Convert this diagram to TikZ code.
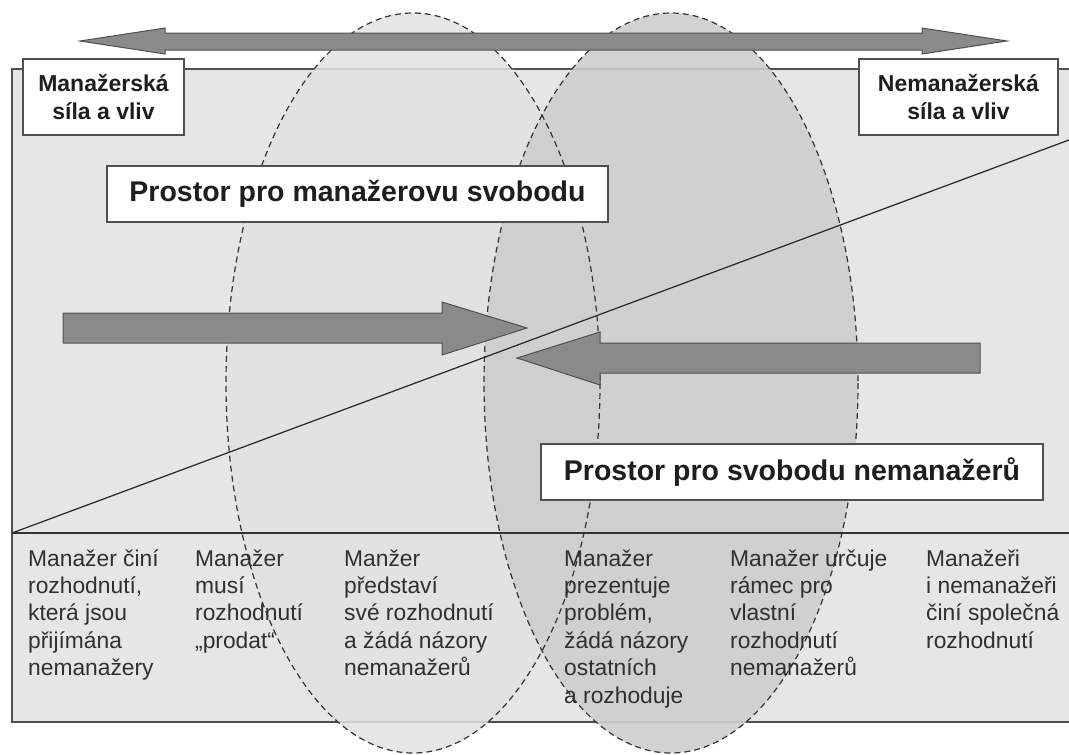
\documentclass[tikz,border=0pt]{standalone}
\usepackage{fontspec}
\setmainfont{Liberation Sans}
\definecolor{bg}{HTML}{E6E6E6}
\definecolor{ellA}{HTML}{E2E2E2}
\definecolor{ellB}{HTML}{CECECE}
\definecolor{arr}{HTML}{8A8A8A}
\definecolor{edge}{HTML}{505050}
\definecolor{ink}{HTML}{1E1E1E}
\definecolor{txt}{HTML}{303030}
\begin{document}
\begin{tikzpicture}[x=1pt,y=-1pt,
  labelbox/.style={draw=edge,line width=1.3pt,fill=white,inner sep=0pt,align=center,
    font=\bfseries\fontsize{23}{27.5}\selectfont,text=ink},
  bigbox/.style={draw=edge,line width=1.3pt,fill=white,inner sep=0pt,
    font=\bfseries\fontsize{28.5}{34}\selectfont,text=ink},
  coltext/.style={anchor=base west,inner sep=0pt,align=left,
    font=\fontsize{22.8}{27.4}\selectfont,text=txt},
  arrowshape/.style={fill=arr,draw=edge,line width=1pt,line join=miter},
  ellline/.style={draw=black!80,dash pattern=on 6pt off 4pt,line width=1.2pt}]
\clip (0,0) rectangle (1069,755);
\fill[white] (0,0) rectangle (1069,755);
% frame
\draw[fill=bg,draw=edge,line width=1.2pt] (12,69) rectangle (1090,722);
% ellipses (fills)
\fill[ellA,opacity=0.85] (413,383) ellipse [x radius=187,y radius=370];
\fill[ellB,opacity=0.9] (671,383) ellipse [x radius=187,y radius=370];
% separator and diagonal
\coordinate (sepL) at (12,533);
\coordinate (sepR) at (1090,533);
\coordinate (diagR) at (1069,140);
\draw[line width=2pt,draw=black!80] (sepL) -- (sepR);
\draw[line width=1.2pt,draw=black!85] (sepL) -- (diagR);
% ellipse outlines
\draw[ellline] (413,383) ellipse [x radius=187,y radius=370];
\draw[ellline] (671,383) ellipse [x radius=187,y radius=370];
% top double arrow
\draw[arrowshape] (80,41) -- (165,28) -- (165,33) -- (922,33) -- (922,28) -- (1007,41)
  -- (922,54) -- (922,50) -- (165,50) -- (165,54) -- cycle;
% right-pointing arrow
\draw[arrowshape] (63,313) -- (442,313) -- (442,302) -- (527,328) -- (442,355)
  -- (442,343) -- (63,343) -- cycle;
% left-pointing arrow
\draw[arrowshape] (980,343) -- (600,343) -- (600,332) -- (517,358) -- (600,385)
  -- (600,373) -- (980,373) -- cycle;
% label boxes
\node[labelbox,minimum width=161pt,minimum height=76pt] (mgr) at (103.5,97) {Manažerská\\síla a vliv};
\node[labelbox,minimum width=199pt,minimum height=76pt] (nmgr) at (958.5,97) {Nemanažerská\\síla a vliv};
\node[bigbox,minimum width=501pt,minimum height=56pt] (space1) at (357.5,194) {Prostor pro manažerovu svobodu};
\node[bigbox,minimum width=502pt,minimum height=56pt] (space2) at (792,472) {Prostor pro svobodu nemanažerů};
% bottom columns (base anchor = baseline of the last line)
\node[coltext] (c1) at (28,675.6) {Manažer činí\\rozhodnutí,\\která jsou\\přijímána\\nemanažery};
\node[coltext] (c2) at (195,648.2) {Manažer\\musí\\rozhodnutí\\„prodat“};
\node[coltext] (c3) at (344,675.6) {Manžer\\představí\\své rozhodnutí\\a žádá názory\\nemanažerů};
\node[coltext] (c4) at (564,703) {Manažer\\prezentuje\\problém,\\žádá názory\\ostatních\\a rozhoduje};
\node[coltext] (c5) at (730,675.6) {Manažer určuje\\rámec pro\\vlastní\\rozhodnutí\\nemanažerů};
\node[coltext] (c6) at (926,648.2) {Manažeři\\i nemanažeři\\činí společná\\rozhodnutí};
\end{tikzpicture}
\end{document}
